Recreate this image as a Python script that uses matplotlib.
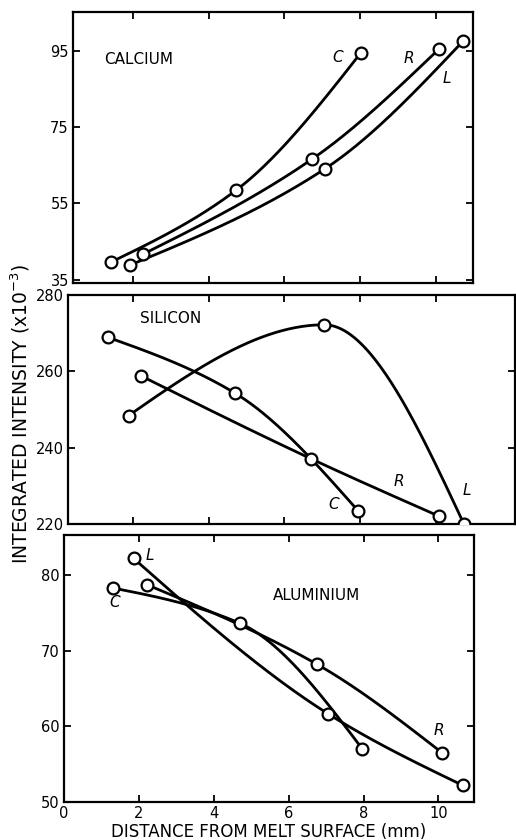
import matplotlib
matplotlib.use('Agg')
import matplotlib.pyplot as plt
import numpy as np

# positions (mm) of the three sampling series
ca_c_x = [1.41, 4.73, 8.01]
ca_c_y = [39.6, 58.5, 94.3]
ca_r_x = [2.26, 6.73, 10.07]
ca_r_y = [41.7, 66.6, 95.3]
ca_l_x = [1.93, 7.06, 10.72]
ca_l_y = [38.9, 64.0, 97.5]

si_c_x = [1.34, 4.69, 7.94]
si_c_y = [268.9, 254.3, 223.5]
si_r_x = [2.21, 6.70, 10.07]
si_r_y = [258.8, 237.1, 222.1]
si_l_x = [1.88, 7.05, 10.74]
si_l_y = [248.4, 272.2, 220.0]

al_c_x = [1.30, 4.71, 7.97]
al_c_y = [78.3, 73.6, 57.0]
al_r_x = [2.23, 6.76, 10.10]
al_r_y = [78.7, 68.2, 56.5]
al_l_x = [1.86, 7.04, 10.65]
al_l_y = [82.2, 61.7, 52.2]

ca_ticks = [35, 55, 75, 95]
si_ticks = [220, 240, 260, 280]
al_ticks = [50, 60, 70, 80]
x_ticks = [0, 2, 4, 6, 8, 10]


def smooth(x, y, n=200):
    # monotone hermite inside, natural ends - only for drawing the pen line
    x = np.asarray(x, float)
    y = np.asarray(y, float)
    h = np.diff(x)
    d = np.diff(y) / h
    m = np.zeros_like(y)
    for k in range(1, len(x) - 1):
        if d[k - 1] * d[k] > 0:
            w1 = 2 * h[k] + h[k - 1]
            w2 = h[k] + 2 * h[k - 1]
            m[k] = (w1 + w2) / (w1 / d[k - 1] + w2 / d[k])
    m[0] = (3 * d[0] - m[1]) / 2
    m[-1] = (3 * d[-1] - m[-2]) / 2
    xs = np.linspace(x[0], x[-1], n)
    idx = np.clip(np.searchsorted(x, xs) - 1, 0, len(h) - 1)
    t = (xs - x[idx]) / h[idx]
    h00 = 2 * t**3 - 3 * t**2 + 1
    h10 = t**3 - 2 * t**2 + t
    h01 = -2 * t**3 + 3 * t**2
    h11 = t**3 - t**2
    ys = h00 * y[idx] + h10 * h[idx] * m[idx] + h01 * y[idx + 1] + h11 * h[idx] * m[idx + 1]
    return xs, ys


def draw(ax, x, y):
    xs, ys = smooth(x, y)
    ax.plot(xs, ys, color='black', lw=2.0, solid_capstyle='round', zorder=2)
    ax.plot(x, y, 'o', ms=8.5, mfc='white', mec='black', mew=1.6, zorder=3)


def style(ax):
    for s in ax.spines.values():
        s.set_linewidth(1.6)
    ax.tick_params(direction='in', length=5, width=1.3, top=True, right=True,
                   labelsize=10.5, pad=3)


W, H = 516, 840
fig = plt.figure(figsize=(W / 100, H / 100), dpi=100)


def box(l, t, r, b):
    return [l / W, 1 - b / H, (r - l) / W, (b - t) / H]


ax1 = fig.add_axes(box(73, 12, 473, 283))
ax2 = fig.add_axes(box(68, 295, 515, 524))
ax3 = fig.add_axes(box(64, 535, 474, 802))

# calcium
draw(ax1, ca_c_x, ca_c_y)
draw(ax1, ca_r_x, ca_r_y)
draw(ax1, ca_l_x, ca_l_y)
ax1.set_xlim(0.42, 10.98)
ax1.set_ylim(34.2, 105.1)
ax1.set_yticks(ca_ticks)
ax1.set_xticks(x_ticks[1:])
ax1.set_xticklabels([])
ax1.text(1.25, 92.6, 'CALCIUM', fontsize=11, va='center')
ax1.text(7.42, 93.3, 'C', fontsize=11, style='italic', ha='center', va='center')
ax1.text(9.30, 93.0, 'R', fontsize=11, style='italic', ha='center', va='center')
ax1.text(10.28, 87.6, 'L', fontsize=11, style='italic', ha='center', va='center')
style(ax1)

# silicon
draw(ax2, si_c_x, si_c_y)
draw(ax2, si_r_x, si_r_y)
draw(ax2, si_l_x, si_l_y)
ax2.set_xlim(0.28, 12.09)
ax2.set_ylim(220, 280)
ax2.set_yticks(si_ticks)
ax2.set_xticks(x_ticks[1:])
ax2.set_xticklabels([])
ax2.text(2.19, 273.9, 'SILICON', fontsize=11, va='center')
ax2.text(7.29, 225.0, 'C', fontsize=11, style='italic', ha='center', va='center')
ax2.text(9.02, 231.1, 'R', fontsize=11, style='italic', ha='center', va='center')
ax2.text(10.81, 228.7, 'L', fontsize=11, style='italic', ha='center', va='center')
style(ax2)

# aluminium
draw(ax3, al_c_x, al_c_y)
draw(ax3, al_r_x, al_r_y)
draw(ax3, al_l_x, al_l_y)
ax3.set_xlim(0, 10.95)
ax3.set_ylim(50, 85.3)
ax3.set_yticks(al_ticks)
ax3.set_xticks(x_ticks)
ax3.text(5.57, 77.3, 'ALUMINIUM', fontsize=11, va='center')
ax3.text(1.34, 76.4, 'C', fontsize=11, style='italic', ha='center', va='center')
ax3.text(2.29, 82.6, 'L', fontsize=11, style='italic', ha='center', va='center')
ax3.text(10.02, 59.4, 'R', fontsize=11, style='italic', ha='center', va='center')
ax3.set_xlabel('DISTANCE FROM MELT SURFACE (mm)', fontsize=12, labelpad=1)
style(ax3)

fig.text(20 / W, 1 - 414 / H, r'INTEGRATED INTENSITY (x10$^{-3}$)', rotation=90,
         fontsize=13.5, ha='center', va='center')

fig.savefig('out.png', dpi=100)
